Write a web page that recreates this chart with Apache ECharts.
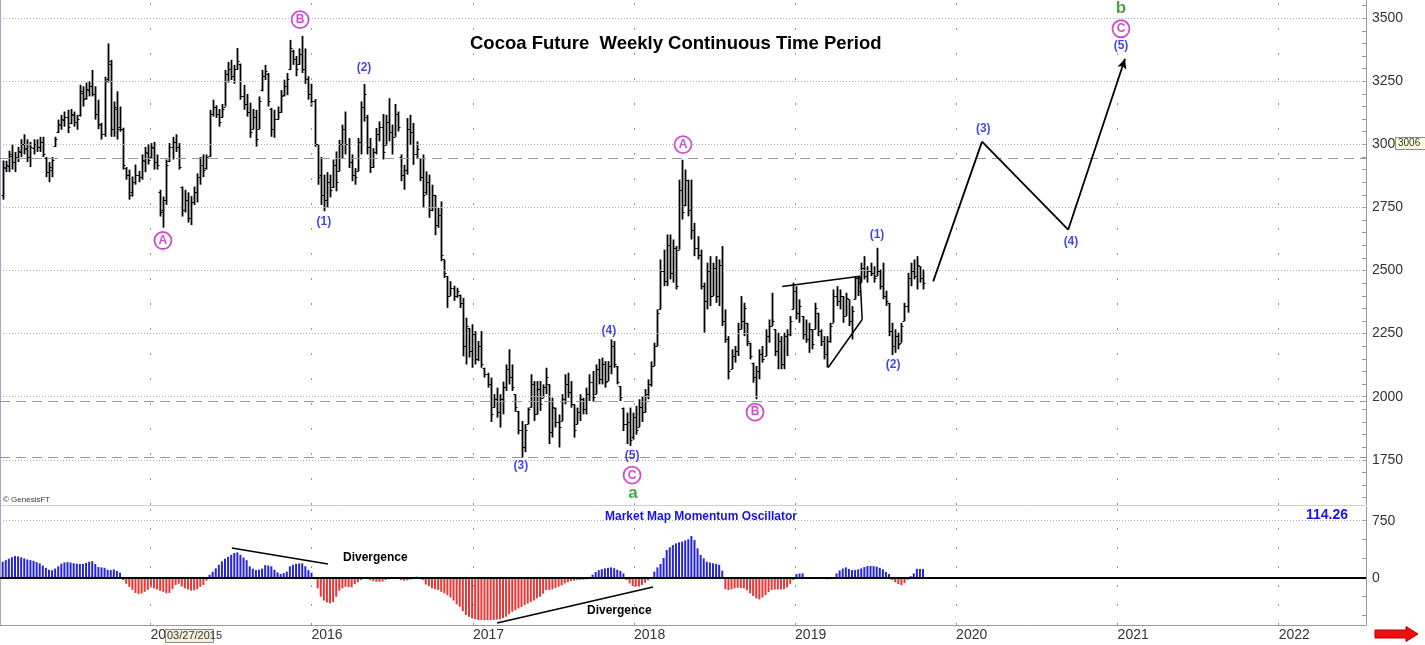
<!DOCTYPE html>
<html>
<head>
<meta charset="utf-8">
<title>Cocoa Future Weekly</title>
<script src="https://cdn.jsdelivr.net/npm/echarts@6/dist/echarts.min.js"></script>
<style>
  html, body { margin: 0; padding: 0; background: #fff; }
  #main { width: 1425px; height: 645px; }
</style>
</head>
<body>
<div id="main"></div>
<script>
// weekly bars, Friday closes, first bar 31 Jan 2014
var firstWeek = Date.UTC(2014, 0, 31);
var DAY = 86400000;

var highs = [
  2936,2935,2975,3000,2970,2990,3020,3040,3020,3010, 3020,3020,3030,3030,2950,2930,2950,3030,3098,3117,
  3130,3137,3140,3130,3117,3236,3230,3245,3250,3295, 3230,3177,3085,3268,3400,3335,3170,3210,3150,3066,
  2910,2900,2873,2920,2895,2960,2990,3000,3005,3010, 2960,2820,2793,2940,3005,3030,3040,3005,2833,2820,
  2810,2795,2833,2885,2950,2960,2960,3137,3177,3155, 3140,3160,3295,3327,3335,3315,3382,3320,3236,3200,
  3165,3140,3137,3190,3295,3315,3283,3145,3137,3150, 3215,3256,3283,3414,3375,3350,3380,3430,3380,3270,
  3240,3180,3000,2950,2880,2890,2880,2940,2972,3018, 3078,3130,3025,2960,2906,3025,3170,3239,3117,3025,
  2985,3065,3091,3120,3117,3183,3078,3160,3130,2960, 2919,3104,3117,3085,3012,2946,2960,2893,2880,2840,
  2800,2748,2774,2544,2478,2458,2440,2432,2405,2392, 2313,2273,2287,2260,2221,2260,2115,2095,2076,2010,
  2036,2010,2060,2128,2188,2128,2010,1944,1904,1891, 1957,2089,2062,2062,2062,2049,2115,2049,1996,1957,
  1930,2010,2089,2095,2062,1970,1957,2010,1996,2036, 2089,2102,2128,2150,2155,2141,2141,2227,2221,2122,
  2042,1957,1937,1957,1937,1964,1990,2003,2030,2069, 2140,2214,2346,2544,2583,2643,2643,2623,2597,2860,
  2939,2900,2860,2860,2689,2636,2583,2452,2531,2557, 2531,2557,2544,2597,2346,2240,2188,2201,2293,2399,
  2372,2293,2214,2135,2122,2188,2201,2267,2306,2412, 2267,2254,2240,2254,2267,2320,2452,2438,2386,2320,
  2306,2293,2267,2372,2333,2267,2240,2240,2293,2425, 2438,2425,2399,2412,2386,2359,2478,2478,2531,2557,
  2517,2531,2517,2590,2504,2531,2420,2372,2293,2267, 2254,2293,2372,2491,2531,2544,2557,2517,2504
];
var lows = [
  2781,2890,2890,2900,2890,2930,2950,2960,2930,2910, 2960,2970,2970,2950,2870,2850,2870,2990,3045,3058,
  3070,3045,3080,3070,3058,3110,3150,3177,3190,3190, 3098,3060,3019,3030,3245,3030,3030,3019,3050,2900,
  2860,2781,2793,2840,2850,2860,2890,2920,2945,2900, 2900,2714,2670,2760,2930,2940,2970,2900,2714,2730,
  2690,2680,2760,2770,2840,2870,2900,2950,3110,3105, 3070,3105,3150,3245,3255,3240,3295,3177,3137,3110,
  3026,3060,2991,3060,3210,3255,3150,3030,3026,3098, 3125,3190,3195,3295,3315,3270,3315,3283,3240,3177,
  3150,2990,2840,2760,2735,2748,2790,2827,2814,2893, 2946,2960,2906,2854,2840,2893,2960,3090,2960,2887,
  2906,2960,3012,2940,2998,3012,2960,3030,3051,2854, 2820,2880,2998,2919,2946,2854,2748,2800,2709,2735,
  2640,2669,2537,2471,2352,2399,2380,2392,2352,2160, 2128,2155,2115,2128,2141,2115,2076,2036,1900,1957,
  1917,1878,1930,2023,2049,2023,1940,1851,1759,1780, 1891,1957,1904,1930,1944,1996,2010,1812,1838,1878,
  1799,1904,1970,1996,1957,1838,1891,1904,1930,1930, 1983,1983,2010,2049,2049,2036,2062,2089,2115,2049,
  1983,1864,1812,1805,1830,1850,1880,1900,1937,1990, 2040,2122,2200,2346,2438,2438,2465,2452,2425,2583,
  2702,2755,2715,2623,2557,2544,2425,2254,2346,2359, 2399,2372,2359,2280,2214,2069,2109,2135,2161,2267,
  2240,2201,2148,2056,1990,2069,2135,2161,2214,2280, 2161,2109,2109,2109,2161,2240,2346,2306,2293,2227,
  2214,2174,2188,2267,2240,2201,2148,2116,2214,2293, 2359,2346,2293,2320,2280,2227,2386,2399,2452,2465,
  2452,2478,2452,2478,2425,2386,2360,2240,2165,2174, 2188,2214,2300,2333,2438,2465,2425,2452,2425
];
var opens = [
  2800,2905,2915,2955,2930,2945,2970,3000,2985,2950, 2985,3000,2990,3010,2945,2890,2900,2995,3050,3075,
  3095,3110,3085,3115,3090,3115,3205,3185,3215,3230, 3200,3120,3075,3040,3260,3320,3060,3140,3070,3060,
  2905,2880,2810,2850,2880,2870,2935,2965,2950,2985, 2930,2810,2740,2780,2935,2990,3010,2990,2830,2740,
  2780,2710,2770,2810,2870,2920,2905,2955,3120,3150, 3120,3110,3150,3280,3300,3270,3300,3320,3190,3160,
  3130,3060,3110,3060,3215,3270,3280,3140,3060,3100, 3130,3195,3230,3300,3370,3340,3320,3360,3300,3260,
  3200,3170,3000,2880,2800,2780,2850,2830,2920,2895, 3000,3060,3000,2930,2880,2895,3010,3150,3110,2990,
  2910,2970,3040,3070,2998,3090,3050,3030,3120,2950, 2880,2900,3060,3050,2960,2946,2870,2810,2850,2740,
  2800,2680,2720,2544,2478,2400,2430,2400,2405,2370, 2200,2273,2180,2250,2150,2200,2115,2090,2050,1960,
  1990,1940,1990,2040,2110,2080,2010,1944,1870,1800, 1891,1960,2050,1930,2030,1996,2040,2049,1860,1957,
  1900,1904,1990,2050,2020,1970,1891,1940,1990,1950, 2010,2060,2010,2110,2070,2130,2062,2120,2200,2122,
  2042,1957,1890,1900,1840,1920,1880,1960,1940,2010, 2050,2122,2200,2346,2500,2460,2600,2490,2590,2583,
  2820,2760,2860,2740,2660,2590,2560,2440,2380,2500, 2400,2510,2400,2520,2300,2230,2109,2160,2180,2270,
  2300,2293,2214,2135,2080,2100,2170,2161,2240,2280, 2267,2180,2220,2130,2240,2250,2346,2420,2330,2320,
  2250,2230,2267,2267,2333,2260,2220,2170,2220,2293, 2400,2380,2399,2320,2386,2300,2386,2470,2452,2510,
  2480,2500,2490,2478,2500,2440,2400,2372,2260,2200, 2240,2214,2300,2360,2470,2500,2480,2517,2470
];
var closes = [
  2910,2920,2960,2930,2950,2975,3000,2980,2950,2990, 3000,2990,3010,2960,2890,2910,2940,3020,3080,3100,
  3110,3070,3120,3090,3100,3210,3180,3220,3230,3200, 3120,3080,3040,3250,3330,3060,3150,3060,3060,2920,
  2880,2800,2850,2880,2870,2940,2970,2940,2990,2930, 2920,2730,2780,2920,2990,3010,2990,2910,2740,2780,
  2710,2770,2810,2870,2920,2900,2950,3120,3150,3120, 3090,3140,3280,3300,3270,3300,3330,3190,3160,3130,
  3050,3110,3020,3170,3270,3290,3170,3060,3100,3130, 3190,3230,3260,3380,3340,3300,3360,3300,3260,3200,
  3170,3000,2870,2800,2780,2850,2820,2920,2850,3000, 3060,3000,2930,2880,2870,3010,3150,3200,2990,2910,
  2970,3040,3070,2970,3090,3050,3000,3120,3070,2880, 2900,3060,3050,2960,2980,2870,2800,2850,2740,2800,
  2680,2720,2560,2490,2400,2430,2400,2420,2370,2200, 2280,2180,2250,2150,2200,2130,2090,2050,1930,1990,
  1940,1990,2040,2110,2080,2040,1960,1870,1800,1870, 1950,2050,1930,2030,1970,2040,2080,1860,1960,1900,
  1880,1990,2050,2020,1970,1870,1940,1990,1950,2010, 2060,2000,2110,2070,2130,2060,2120,2200,2130,2060,
  2000,1890,1900,1830,1920,1870,1960,1940,2010,2050, 2120,2200,2330,2500,2460,2600,2490,2590,2440,2820,
  2730,2860,2740,2660,2590,2560,2440,2380,2500,2400, 2510,2400,2520,2300,2230,2100,2160,2180,2270,2300,
  2350,2220,2160,2080,2100,2170,2150,2240,2280,2300, 2180,2220,2130,2240,2250,2300,2420,2330,2360,2250,
  2230,2270,2210,2350,2260,2220,2170,2220,2280,2400, 2380,2400,2320,2390,2300,2340,2470,2420,2510,2480,
  2500,2490,2470,2500,2440,2400,2380,2260,2200,2240, 2210,2280,2360,2470,2500,2480,2520,2470,2450
];
// Market Map Momentum Oscillator, one value per week
var osc = [
  210,230,250,270,285,280,268,254,240,230, 222,205,189,160,130,105,98,120,150,185,
  200,206,200,190,183,180,181,195,210,218, 180,140,136,130,105,100,110,90,66,-30,
  -80,-120,-160,-200,-215,-208,-185,-160,-130,-140, -155,-172,-185,-205,-200,-150,-95,-80,-115,-140,
  -155,-170,-165,-152,-120,-95,-40,40,80,123, 170,215,250,275,300,325,333,300,265,230,
  150,118,100,105,120,165,160,150,105,70, 48,60,80,150,170,182,188,189,150,100,
  66,-20,-140,-250,-300,-325,-338,-320,-250,-170, -140,-118,-122,-127,-85,-60,-31,-12,-15,-30,
  -45,-53,-55,-50,-31,-20,-13,-5,-15,-31, -40,-35,-25,-20,13,-10,-31,-90,-110,-140,
  -150,-162,-185,-205,-230,-260,-300,-350,-382,-440, -490,-515,-535,-545,-557,-555,-560,-558,-557,-555,
  -550,-548,-530,-513,-480,-447,-425,-404,-385,-360, -340,-320,-300,-270,-250,-210,-162,-160,-154,-135,
  -118,-100,-75,-60,-45,-38,-32,-28,-25,-22, -10,40,75,100,112,123,130,136,125,105,
  90,57,-31,-75,-110,-115,-118,-95,-66,-35, 10,80,136,180,260,364,400,430,452,465,
  474,490,505,548,496,386,300,254,210,200, 189,182,170,92,-150,-162,-154,-140,-132,-135,
  -140,-165,-206,-240,-272,-285,-260,-228,-190,-162, -155,-154,-154,-150,-127,-80,-31,48,55,57,
  0,-13,-13,-13,-5,0,-10,-22,-8,0, 57,95,120,136,115,100,100,110,123,140,
  154,154,152,145,130,110,75,48,-31,-60, -83,-97,-70,-31,20,57,118,116,114
];

var yearStarts = [2015, 2016, 2017, 2018, 2019, 2020, 2021, 2022];
var priceLabels = [1750, 2000, 2250, 2500, 2750, 3000, 3250, 3500];
var oscLabels = [0, 750];
var oscTicks = [-500, -250, 0, 250, 500, 750];
var levelLines = [2943, 1983, 1762];

// wave counts: [week index, price, text]
var waveNumbers = [
  [104, 2694, '(1)'], [117, 3303, '(2)'], [167.8, 1725, '(3)'], [196.3, 2263, '(4)'], [203.8, 1765, '(5)'],
  [283.1, 2642, '(1)'], [288.3, 2128, '(2)'],
  [317.5, 3062, '(3)'], [345.9, 2615, '(4)'], [362.1, 3390, '(5)']
];
var waveCircles = [
  [51.9, 2619, 'A'], [96.3, 3494, 'B'], [203.8, 1689, 'C'],
  [220.3, 2999, 'A'], [243.6, 1939, 'B'], [362.1, 3458, 'C']
];
var waveDegree = [[204.1, 1618, 'a'], [362.1, 3541, 'b']];
// projected path [week index, price]
var projection = [[301.3, 2457], [317.1, 3011], [345, 2662], [363.4, 3339]];
// triangle drawn over 2018-19
var triUpper = [[252.4, 2437], [277.6, 2477]];
var triLower = [[267.3, 2116], [278.3, 2306], [277.6, 2477]];
// divergence lines on the oscillator [week index, osc]
var divUpper = [[74.2, 391], [105.3, 180]];
var divLower = [[160.1, -596], [210.6, -122]];

function wk(i) { return firstWeek + i * 7 * DAY; }
var xMin = firstWeek - 6 * DAY;
var xMax = Date.UTC(2022, 6, 18);
var yearTimes = yearStarts.map(function (y) { return Date.UTC(y, 0, 1); });
var priceMinor = [];
for (var v = 1600; v <= 3550; v += 50) priceMinor.push(v);

var FONT = '"Liberation Sans", Arial, sans-serif';
var BLUE = '#1414e6';
var MAGENTA = '#c21fc2';

var ohlc = highs.map(function (h, i) { return [wk(i), opens[i], h, lows[i], closes[i]]; });
var oscData = osc.map(function (v, i) { return [wk(i), v]; });

function seg(pts, style, lastArrow) {
  var out = [];
  for (var k = 0; k < pts.length - 1; k++) {
    var a = { coord: [wk(pts[k][0]), pts[k][1]], lineStyle: style };
    var b = { coord: [wk(pts[k + 1][0]), pts[k + 1][1]] };
    if (lastArrow && k === pts.length - 2) { b.symbol = 'arrow'; b.symbolSize = [7, 10]; }
    out.push([a, b]);
  }
  return out;
}
function labelData(arr) {
  return arr.map(function (d) { return { value: [wk(d[0]), d[1]], name: d[2] }; });
}
function plain(val) { return String(val); }

var mainGrid = [];
priceLabels.forEach(function (p) {
  mainGrid.push({ yAxis: p, lineStyle: { color: '#b0b0b0', type: [1, 2], width: 1 } });
});
yearTimes.forEach(function (t) {
  mainGrid.push({ xAxis: t, lineStyle: { color: '#999', type: [2, 23], width: 1 } });
});
levelLines.forEach(function (p) {
  mainGrid.push({ yAxis: p, lineStyle: { color: '#999', type: [10, 6], width: 1 } });
});

var oscMarks = [];
yearTimes.forEach(function (t) {
  oscMarks.push({ xAxis: t, lineStyle: { color: '#999', type: [2, 17], width: 1 } });
});
oscMarks.push({ yAxis: 750, lineStyle: { color: '#b0b0b0', type: [1, 2], width: 1 } });
oscMarks.push({ yAxis: 0, lineStyle: { color: '#000', type: 'solid', width: 2 } });
var blk = { color: '#000', type: 'solid', width: 1.5 };
oscMarks = oscMarks.concat(seg(divUpper, blk), seg(divLower, blk));

var chart = echarts.init(document.getElementById('main'));
var option = {
  animation: false,
  backgroundColor: '#fff',
  title: {
    text: 'Cocoa Future  Weekly Continuous Time Period',
    left: 465, top: 29,
    textStyle: { fontSize: 18.5, fontWeight: 'bold', color: '#000', fontFamily: FONT }
  },
  grid: [
    { left: 0, top: 0, width: 1366, height: 505 },
    { left: 0, top: 507, width: 1366, height: 118 }
  ],
  xAxis: [
    { type: 'value', gridIndex: 0, min: xMin, max: xMax,
      axisLine: { show: false }, axisTick: { show: false }, axisLabel: { show: false }, splitLine: { show: false } },
    { type: 'value', gridIndex: 1, min: xMin, max: xMax,
      axisLine: { show: true, onZero: false, lineStyle: { color: '#999' } },
      axisTick: { show: false }, splitLine: { show: false },
      axisLabel: { customValues: yearTimes, align: 'left', margin: 3, color: '#333', fontSize: 14, fontFamily: FONT,
        formatter: function (val) { return String(new Date(val).getUTCFullYear()); } } }
  ],
  yAxis: [
    { type: 'value', gridIndex: 0, position: 'right', min: 1571, max: 3572,
      axisLine: { show: true, lineStyle: { color: '#999' } },
      axisTick: { show: true, inside: true, length: 4, customValues: priceMinor, lineStyle: { color: '#999' } },
      axisLabel: { customValues: priceLabels, formatter: plain, margin: 6, color: '#333', fontSize: 14, fontFamily: FONT },
      splitLine: { show: false } },
    { type: 'value', gridIndex: 1, position: 'right', min: -622, max: 930,
      axisLine: { show: true, lineStyle: { color: '#999' } },
      axisTick: { show: true, inside: true, length: 4, customValues: oscTicks, lineStyle: { color: '#999' } },
      axisLabel: { customValues: oscLabels, formatter: plain, margin: 6, color: '#333', fontSize: 14, fontFamily: FONT },
      splitLine: { show: false } }
  ],
  series: [
    { // grid lines of the price panel
      type: 'line', xAxisIndex: 0, yAxisIndex: 0, z: 1, silent: true,
      data: [[xMin, 1600]], showSymbol: false, lineStyle: { opacity: 0 },
      markLine: { silent: true, symbol: ['none', 'none'], label: { show: false }, data: mainGrid }
    },
    { // weekly OHLC bars
      type: 'custom', xAxisIndex: 0, yAxisIndex: 0, z: 2,
      encode: { x: 0, y: [1, 2, 3, 4] },
      data: ohlc,
      renderItem: function (params, api) {
        var x = api.value(0);
        var pH = api.coord([x, api.value(2)]);
        var pL = api.coord([x, api.value(3)]);
        var pO = api.coord([x, api.value(1)]);
        var pC = api.coord([x, api.value(4)]);
        var xs = Math.round(pH[0]) + 0.5;
        return { type: 'group', children: [
          { type: 'line', shape: { x1: xs, y1: pH[1], x2: xs, y2: pL[1] }, style: { stroke: '#000', lineWidth: 1.8 } },
          { type: 'line', shape: { x1: xs - 2, y1: Math.round(pO[1]) + 0.5, x2: xs, y2: Math.round(pO[1]) + 0.5 }, style: { stroke: '#000', lineWidth: 1 } },
          { type: 'line', shape: { x1: xs, y1: Math.round(pC[1]) + 0.5, x2: xs + 2, y2: Math.round(pC[1]) + 0.5 }, style: { stroke: '#000', lineWidth: 1 } }
        ] };
      }
    },
    { // projection and triangle
      type: 'line', xAxisIndex: 0, yAxisIndex: 0, z: 3, silent: true,
      data: [[xMin, 1600]], showSymbol: false, lineStyle: { opacity: 0 },
      markLine: { silent: true, symbol: ['none', 'none'], label: { show: false },
        data: seg(projection, { color: '#000', type: 'solid', width: 1.8 }, true)
          .concat(seg(triUpper, { color: '#000', type: 'solid', width: 1.5 }))
          .concat(seg(triLower, { color: '#000', type: 'solid', width: 1.5 })) }
    },
    { type: 'scatter', xAxisIndex: 0, yAxisIndex: 0, z: 5, silent: true,
      data: labelData(waveNumbers), symbolSize: 1, itemStyle: { color: 'rgba(0,0,0,0)' },
      label: { show: true, position: 'inside', formatter: '{b}', color: BLUE, fontSize: 12, fontWeight: 'bold', fontFamily: FONT } },
    { type: 'scatter', xAxisIndex: 0, yAxisIndex: 0, z: 5, silent: true,
      data: labelData(waveCircles), symbol: 'circle', symbolSize: 17,
      itemStyle: { color: '#fff', borderColor: MAGENTA, borderWidth: 1.8 },
      label: { show: true, position: 'inside', formatter: '{b}', color: MAGENTA, fontSize: 12, fontWeight: 'bold', fontFamily: FONT } },
    { type: 'scatter', xAxisIndex: 0, yAxisIndex: 0, z: 5, silent: true,
      data: labelData(waveDegree), symbolSize: 1, itemStyle: { color: 'rgba(0,0,0,0)' },
      label: { show: true, position: 'inside', formatter: '{b}', color: '#1c8c1c', fontSize: 17, fontWeight: 'bold', fontFamily: FONT } },
    { // oscillator histogram
      type: 'bar', xAxisIndex: 1, yAxisIndex: 1, z: 2, silent: true,
      data: oscData, barWidth: 2,
      itemStyle: { color: function (p) { return p.value[1] >= 0 ? '#2525d5' : '#ea3535'; } },
      markLine: { silent: true, symbol: ['none', 'none'], label: { show: false }, data: oscMarks }
    }
  ],
  graphic: [
    { type: 'line', shape: { x1: 0, y1: 505.5, x2: 1366, y2: 505.5 }, style: { stroke: '#d0d0d0', lineWidth: 1 } },
    { type: 'line', shape: { x1: 0.5, y1: 0, x2: 0.5, y2: 625 }, style: { stroke: '#a8a8c0', lineWidth: 1 } },
    { type: 'text', left: 3, top: 496, style: { text: '\u00a9 GenesisFT', fill: '#333', font: '8px ' + FONT } },
    { type: 'text', left: 605, top: 511, style: { text: 'Market Map Momentum Oscillator', fill: BLUE, font: 'bold 12px ' + FONT } },
    { type: 'text', left: 1306, top: 508, style: { text: '114.26', fill: BLUE, font: 'bold 14px ' + FONT } },
    { type: 'text', left: 343, top: 552, style: { text: 'Divergence', fill: '#000', font: 'bold 12px ' + FONT } },
    { type: 'text', left: 587, top: 605, style: { text: 'Divergence', fill: '#000', font: 'bold 12px ' + FONT } },
    { type: 'rect', shape: { x: 1395.5, y: 137.5, width: 30, height: 12 }, style: { fill: '#ffffe0', stroke: '#888', lineWidth: 1 }, z: 100 },
    { type: 'text', left: 1398, top: 138, z: 101, style: { text: '3006', fill: '#333', font: '10px ' + FONT } },
    { type: 'rect', shape: { x: 165.5, y: 629.5, width: 48, height: 13 }, style: { fill: '#f4f0da', stroke: '#888', lineWidth: 1 }, z: 100 },
    { type: 'text', left: 167, top: 630, z: 101, style: { text: '03/27/2015', fill: '#333', font: '11px ' + FONT } },
    { type: 'polygon', z: 100, shape: { points: [[1375, 630], [1406, 630], [1406, 626.5], [1418, 634], [1406, 641.5], [1406, 638], [1375, 638]] },
      style: { fill: '#ee1010', stroke: '#b00000', lineWidth: 1 } }
  ]
};
chart.setOption(option);
</script>
</body>
</html>
